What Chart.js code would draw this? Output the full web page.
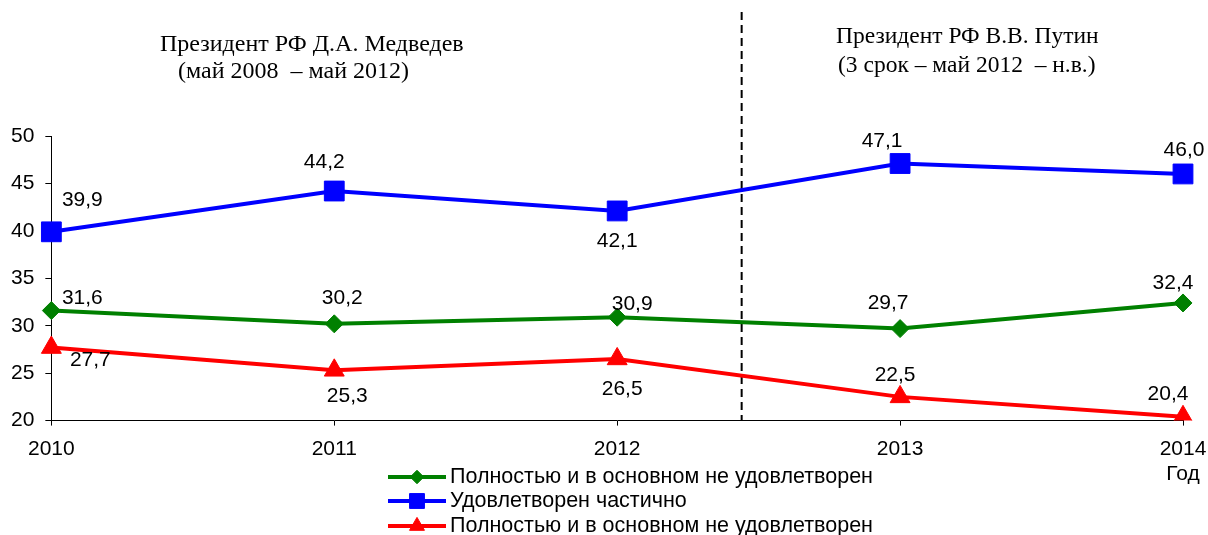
<!DOCTYPE html>
<html>
<head>
<meta charset="utf-8">
<script src="https://cdn.jsdelivr.net/npm/chart.js@4"></script>
<style>
  html, body { margin: 0; padding: 0; background: #fff; }
  #wrap { width: 1208px; height: 535px; }
</style>
</head>
<body>
<div id="wrap"><canvas id="satisfactionChart" width="1208" height="535"></canvas></div>
<script>
const years = ["2010", "2011", "2012", "2013", "2014"]
const seriesNames = [
  "Полностью и в основном не удовлетворен",
  "Удовлетворен частично",
  "Полностью и в основном не удовлетворен",
]
const greenValues = [31.6, 30.2, 30.9, 29.7, 32.4]
const blueValues = [39.9, 44.2, 42.1, 47.1, 46.0]
const redValues = [27.7, 25.3, 26.5, 22.5, 20.4]
const axisTitle = "Год"
const headerLeft = ["Президент РФ Д.А. Медведев", "(май 2008  – май 2012)"]
const headerRight = ["Президент РФ В.В. Путин", "(3 срок – май 2012  – н.в.)"]

// label offsets (px) from each point, per dataset
const labelOffsets = [
  [[31, -12], [8, -26], [15, -13], [-12, -25], [-10, -20]],
  [[31, -32], [-10, -29], [0, 30], [-18, -22], [1, -24]],
  [[39, 13], [13, 26], [5, 30], [-5, -22], [-15, -23]],
]

const FONT = "'Liberation Sans', Arial, sans-serif"
const SERIF = "'Liberation Serif', 'Times New Roman', serif"

Chart.defaults.font.family = FONT
Chart.defaults.font.size = 21
Chart.defaults.color = "#000"

function fmt(v) {
  return v.toFixed(1).replace(".", ",")
}

const valueLabels = {
  id: "valueLabels",
  afterDatasetsDraw(chart) {
    const ctx = chart.ctx
    ctx.save()
    ctx.font = "21px " + FONT
    ctx.fillStyle = "#000"
    ctx.textAlign = "center"
    ctx.textBaseline = "middle"
    chart.data.datasets.forEach((ds, i) => {
      const meta = chart.getDatasetMeta(i)
      meta.data.forEach((pt, j) => {
        const off = labelOffsets[i][j]
        ctx.fillText(fmt(ds.data[j]), pt.x + off[0], pt.y + off[1])
      })
    })
    ctx.restore()
  },
}

const decorations = {
  id: "decorations",
  beforeDatasetsDraw(chart) {
    // dashed separator between presidential terms
    const x = chart.scales.x
    const px = x.getPixelForValue(2) + 0.44 * (x.getPixelForValue(3) - x.getPixelForValue(2))
    const ctx = chart.ctx
    ctx.save()
    ctx.strokeStyle = "#000"
    ctx.lineWidth = 2
    ctx.setLineDash([8, 5])
    ctx.beginPath()
    ctx.moveTo(px, 12)
    ctx.lineTo(px, chart.chartArea.bottom)
    ctx.stroke()
    ctx.restore()
  },
  afterDraw(chart) {
    const ctx = chart.ctx
    ctx.save()
    ctx.fillStyle = "#000"
    ctx.textBaseline = "middle"
    ctx.textAlign = "left"
    ctx.font = "24px " + SERIF
    ctx.fillText(headerLeft[0], 160, 45)
    ctx.fillText(headerLeft[1], 178, 72)
    ctx.font = "23.5px " + SERIF
    ctx.fillText(headerRight[0], 836, 37)
    ctx.fillText(headerRight[1], 838, 66)

    // legend
    ctx.font = "21.5px " + FONT
    const rows = [477, 501, 526]
    chart.data.datasets.forEach((ds, i) => {
      const y = rows[i]
      ctx.strokeStyle = ds.borderColor
      ctx.fillStyle = ds.borderColor
      ctx.lineWidth = 4
      ctx.setLineDash([])
      ctx.beginPath()
      ctx.moveTo(388, y)
      ctx.lineTo(446, y)
      ctx.stroke()
      ctx.lineWidth = 1
      Chart.helpers.drawPoint(
        ctx,
        {
          pointStyle: ds.pointStyle,
          radius: ds.pointRadius * 0.75,
          borderWidth: 1,
        },
        417,
        y
      )
      ctx.fillStyle = "#000"
      ctx.fillText(ds.label, 450, y)
    })
    ctx.restore()
  },
}

function seriesOpts(label, data, color, style, radius) {
  return {
    label: label,
    data: data,
    borderColor: color,
    backgroundColor: color,
    pointBackgroundColor: color,
    pointBorderColor: color,
    borderWidth: 4,
    pointStyle: style,
    pointRadius: radius,
    pointHoverRadius: radius,
    pointBorderWidth: 1,
    tension: 0,
  }
}

const ctx = document.getElementById("satisfactionChart").getContext("2d")
const satisfactionChart = new Chart(ctx, {
  type: "line",
  data: {
    labels: years,
    datasets: [
      seriesOpts(seriesNames[0], greenValues, "#008000", "rectRot", 9),
      seriesOpts(seriesNames[1], blueValues, "#0000FF", "rect", 14),
      seriesOpts(seriesNames[2], redValues, "#FF0000", "triangle", 11.5),
    ],
  },
  plugins: [decorations, valueLabels],
  options: {
    responsive: false,
    animation: false,
    layout: {
      padding: { left: 0, right: 0, top: 136, bottom: 37 },
    },
    plugins: {
      legend: { display: false },
      tooltip: { enabled: false },
    },
    scales: {
      x: {
        offset: false,
        afterFit: function (scale) {
          scale.paddingRight = 25
        },
        grid: {
          display: true,
          drawOnChartArea: false,
          drawTicks: true,
          tickLength: 5,
          color: "#000",
        },
        border: { color: "#000", width: 1 },
        ticks: {
          padding: 11,
          maxRotation: 0,
          autoSkip: false,
          callback: function (val, idx) {
            const y = this.getLabelForValue(val)
            return idx === years.length - 1 ? [y, axisTitle] : y
          },
        },
      },
      y: {
        min: 20,
        max: 50,
        grid: {
          display: true,
          drawOnChartArea: false,
          drawTicks: true,
          tickLength: 6,
          color: "#000",
        },
        border: { color: "#000", width: 1 },
        ticks: {
          stepSize: 5,
          padding: 11,
        },
      },
    },
  },
})
</script>
</body>
</html>
